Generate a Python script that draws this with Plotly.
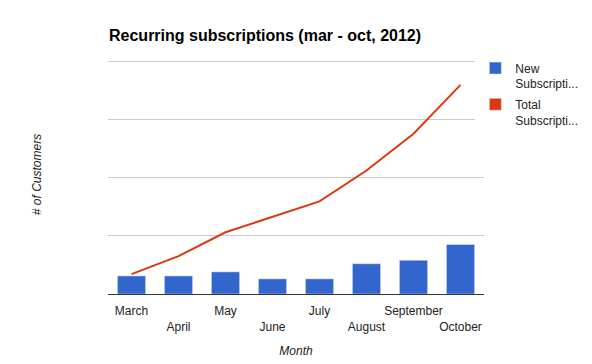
import plotly.graph_objects as go

months = ["March", "April", "May", "June", "July", "August", "September", "October"]
tick_labels = ["March", "<br>April", "May", "<br>June", "July", "<br>August", "September", "<br>October"]
new_subs = [31, 31, 38, 26, 26, 52, 58, 85]
total_subs = [34, 65, 106, 133, 159, 212, 275, 359]

BLUE = "#3366CC"
RED = "#DC3912"

fig = go.Figure()
fig.add_trace(go.Bar(x=months, y=new_subs, name="New<br>Subscripti...",
                     marker_color=BLUE, width=0.6))
fig.add_trace(go.Scatter(x=months, y=total_subs, name="Total<br>Subscripti...",
                         mode="lines", line=dict(color=RED, width=2),
                         showlegend=False, legendgroup="total"))
# legend swatch for the line series (square, as in the reference)
fig.add_trace(go.Bar(x=[None], y=[None], name="Total<br>Subscripti...",
                     marker_color=RED, legendgroup="total", hoverinfo="skip"))

fig.update_layout(
    width=592, height=364,
    margin=dict(l=108, r=108, t=55, b=70, autoexpand=False),
    plot_bgcolor="white", paper_bgcolor="white",
    font=dict(family="Liberation Sans, Arial, sans-serif", size=12, color="#222"),
    title=dict(text="<b>Recurring subscriptions (mar - oct, 2012)</b>",
               x=109/592, xanchor="left", xref="container",
               y=1-35/364, yanchor="middle", yref="container",
               font=dict(size=16, color="#000")),
    bargap=0.4,
    barmode="overlay",
    showlegend=True,
    legend=dict(x=0.977, xanchor="left", y=1.005, yanchor="top",
                font=dict(size=12, color="#222"), tracegroupgap=2,
                valign="top", itemwidth=30),
)
fig.update_xaxes(tickmode="array", tickvals=months, ticktext=tick_labels,
                 tickangle=0, automargin=False, ticklabelstandoff=6,
                 showline=True, linecolor="#333", linewidth=1, ticks="",
                 title=dict(text="<i>Month</i>", standoff=13, font=dict(size=12)),
                 fixedrange=True)
fig.update_yaxes(range=[0, 410.3], tickvals=[100, 200, 300, 400], showticklabels=False,
                 gridcolor="#CCCCCC", zeroline=False, automargin=False,
                 title=dict(text="<i># of Customers</i>", standoff=62, font=dict(size=12)),
                 fixedrange=True)

fig.write_html("out.html", config={"displayModeBar": False},
               post_script="document.body.style.margin='0';")
